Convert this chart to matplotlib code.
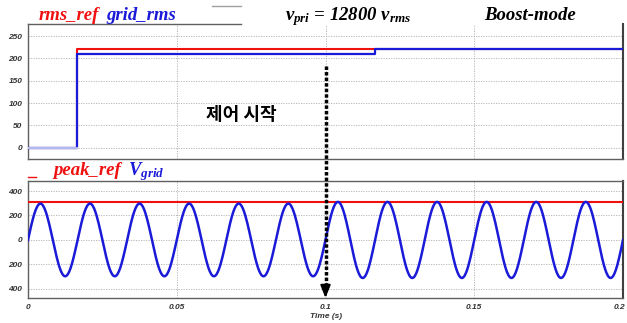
import numpy as np
import matplotlib.pyplot as plt
import matplotlib.transforms as mtransforms
from matplotlib.lines import Line2D

plt.rcParams['mathtext.fontset'] = 'custom'
plt.rcParams['mathtext.it'] = 'Liberation Serif:bold:italic'
plt.rcParams['mathtext.rm'] = 'Liberation Serif:bold:italic'

# top plot: rms values (step traces)
rms_ref_t = [0.0, 0.0165, 0.0165, 0.2]
rms_ref_v = [0, 0, 220, 220]
grid_rms_t = [0.0, 0.0165, 0.0165, 0.1165, 0.1165, 0.2]
grid_rms_v = [0, 0, 210, 210, 220, 220]

# bottom plot: grid voltage, 60 Hz, peak of each half cycle
grid_freq = 60
half_cycle_peaks = [297, 297, 297, 297, 297, 297, 297, 297, 297, 297, 297, 297,
                    311, 311, 311, 311, 311, 311, 311, 311, 311, 311, 311, 311]
peak_ref = 311
control_start = 0.1

top_yticks = [0, 50, 100, 150, 200, 250]
bot_yticks = [-400, -200, 0, 200, 400]
bot_ylabels = ['400', '200', '0', '200', '400']
xticks = [0, 0.05, 0.1, 0.15, 0.2]
xlabels = ['0', '0.05', '0.1', '0.15', '0.2']

W, H = 627, 323
def fx(px):
    return px / W
def fy(py):
    return 1 - py / H

fig = plt.figure(figsize=(6.27, 3.23), dpi=100)
ax1 = fig.add_axes([fx(28), fy(159), fx(595), 135 / H])
ax2 = fig.add_axes([fx(28), fy(298), fx(595), 117 / H])

RED = '#f01010'
BLUE = '#1a1ad8'
tickfont = dict(family='Liberation Sans', weight='bold', style='italic', size=6)

ax1.plot(rms_ref_t, rms_ref_v, color=RED, lw=1.5, zorder=3)
ax1.plot(grid_rms_t, grid_rms_v, color=BLUE, lw=1.6, zorder=4)
ax1.plot([0, 0.0165], [0, 0], color='#b0b8f0', lw=1.5, zorder=5)

# grid voltage
half = 1.0 / (2 * grid_freq)
tt = []
vv = []
for k, pk in enumerate(half_cycle_peaks):
    ts = np.linspace(k * half, (k + 1) * half, 40)
    tt.append(ts)
    vv.append(pk * np.sin(2 * np.pi * grid_freq * ts))
tt = np.concatenate(tt)
vv = np.concatenate(vv)
ax2.axhline(peak_ref, color=RED, lw=1.5, zorder=3)
ax2.plot(tt, vv, color=BLUE, lw=1.8, zorder=4)

for ax in (ax1, ax2):
    ax.set_xlim(0, 0.2)
    ax.set_xticks(xticks)
    ax.grid(True, color='#b0b0b0', lw=0.6, linestyle=(0, (1.5, 1.5)))
    ax.tick_params(length=0, pad=4, colors='#333333')
    for s in ax.spines.values():
        s.set_color('#606060')
        s.set_linewidth(1)
    ax.spines['right'].set_linewidth(1.5)
    ax.spines['right'].set_color('#404040')

ax1.set_ylim(-25, 277)
ax1.set_yticks(top_yticks)
ax1.set_yticklabels([str(v) for v in top_yticks], fontdict=tickfont)
ax1.set_xticklabels([])
ax1.spines['top'].set_visible(False)
ax1.plot([0, (241 - 28) / 595], [1, 1], transform=ax1.transAxes, clip_on=False,
         color='#606060', lw=1)

ax2.set_ylim(-475, 482)
ax2.set_yticks(bot_yticks)
ax2.set_yticklabels(bot_ylabels, fontdict=tickfont)
ax2.set_xticklabels(xlabels, fontdict=tickfont)
last = ax2.get_xticklabels()[-1]
last.set_transform(last.get_transform() + mtransforms.ScaledTranslation(-4 / 100, 0, fig.dpi_scale_trans))

# titles
serif = dict(family='Liberation Serif', weight='bold', style='italic', size=13.5)
fig.text(fx(39), fy(19.5), 'rms_ref', color=RED, va='baseline', **serif)
fig.text(fx(106), fy(19.5), 'grid_rms', color=BLUE, va='baseline', **serif)
fig.text(fx(285), fy(20), r'$v_{pri}$ = 12800 $v_{rms}$', color='black', va='baseline', **serif)
fig.text(fx(484), fy(20), 'Boost-mode', color='black', va='baseline', **serif)
fig.text(fx(53), fy(175), 'peak_ref', color=RED, va='baseline', **serif)
fig.text(fx(128), fy(175), r'$V_{grid}$', color=BLUE, va='baseline', **serif)
fig.add_artist(Line2D([fx(212), fx(241)], [fy(6), fy(6)], color='#a0a0a0', lw=1))
fig.add_artist(Line2D([fx(28), fx(36)], [fy(177), fy(177)], color=RED, lw=1))

fig.text(fx(241), fy(115), '제어 시작', family=['Noto Sans CJK KR', 'DejaVu Sans'],
         weight='bold', size=13, ha='center', va='center')

fig.text(fx(326), fy(317), 'Time (s)', ha='center', va='center', color='#333333', **tickfont)

# control start arrow
blend = mtransforms.blended_transform_factory(ax2.transData, fig.transFigure)
fig.add_artist(Line2D([control_start, control_start], [fy(66), fy(289)], transform=blend,
                      color='black', lw=2.5, linestyle=(0, (1, 0.6))))
ax2.annotate('', xy=(control_start, -475), xycoords='data',
             xytext=(control_start, fy(287)), textcoords=blend,
             arrowprops=dict(arrowstyle='-|>,head_width=0.3,head_length=0.75',
                             color='black', lw=1.5, shrinkA=0, shrinkB=0))

fig.savefig('out.png', dpi=100)
